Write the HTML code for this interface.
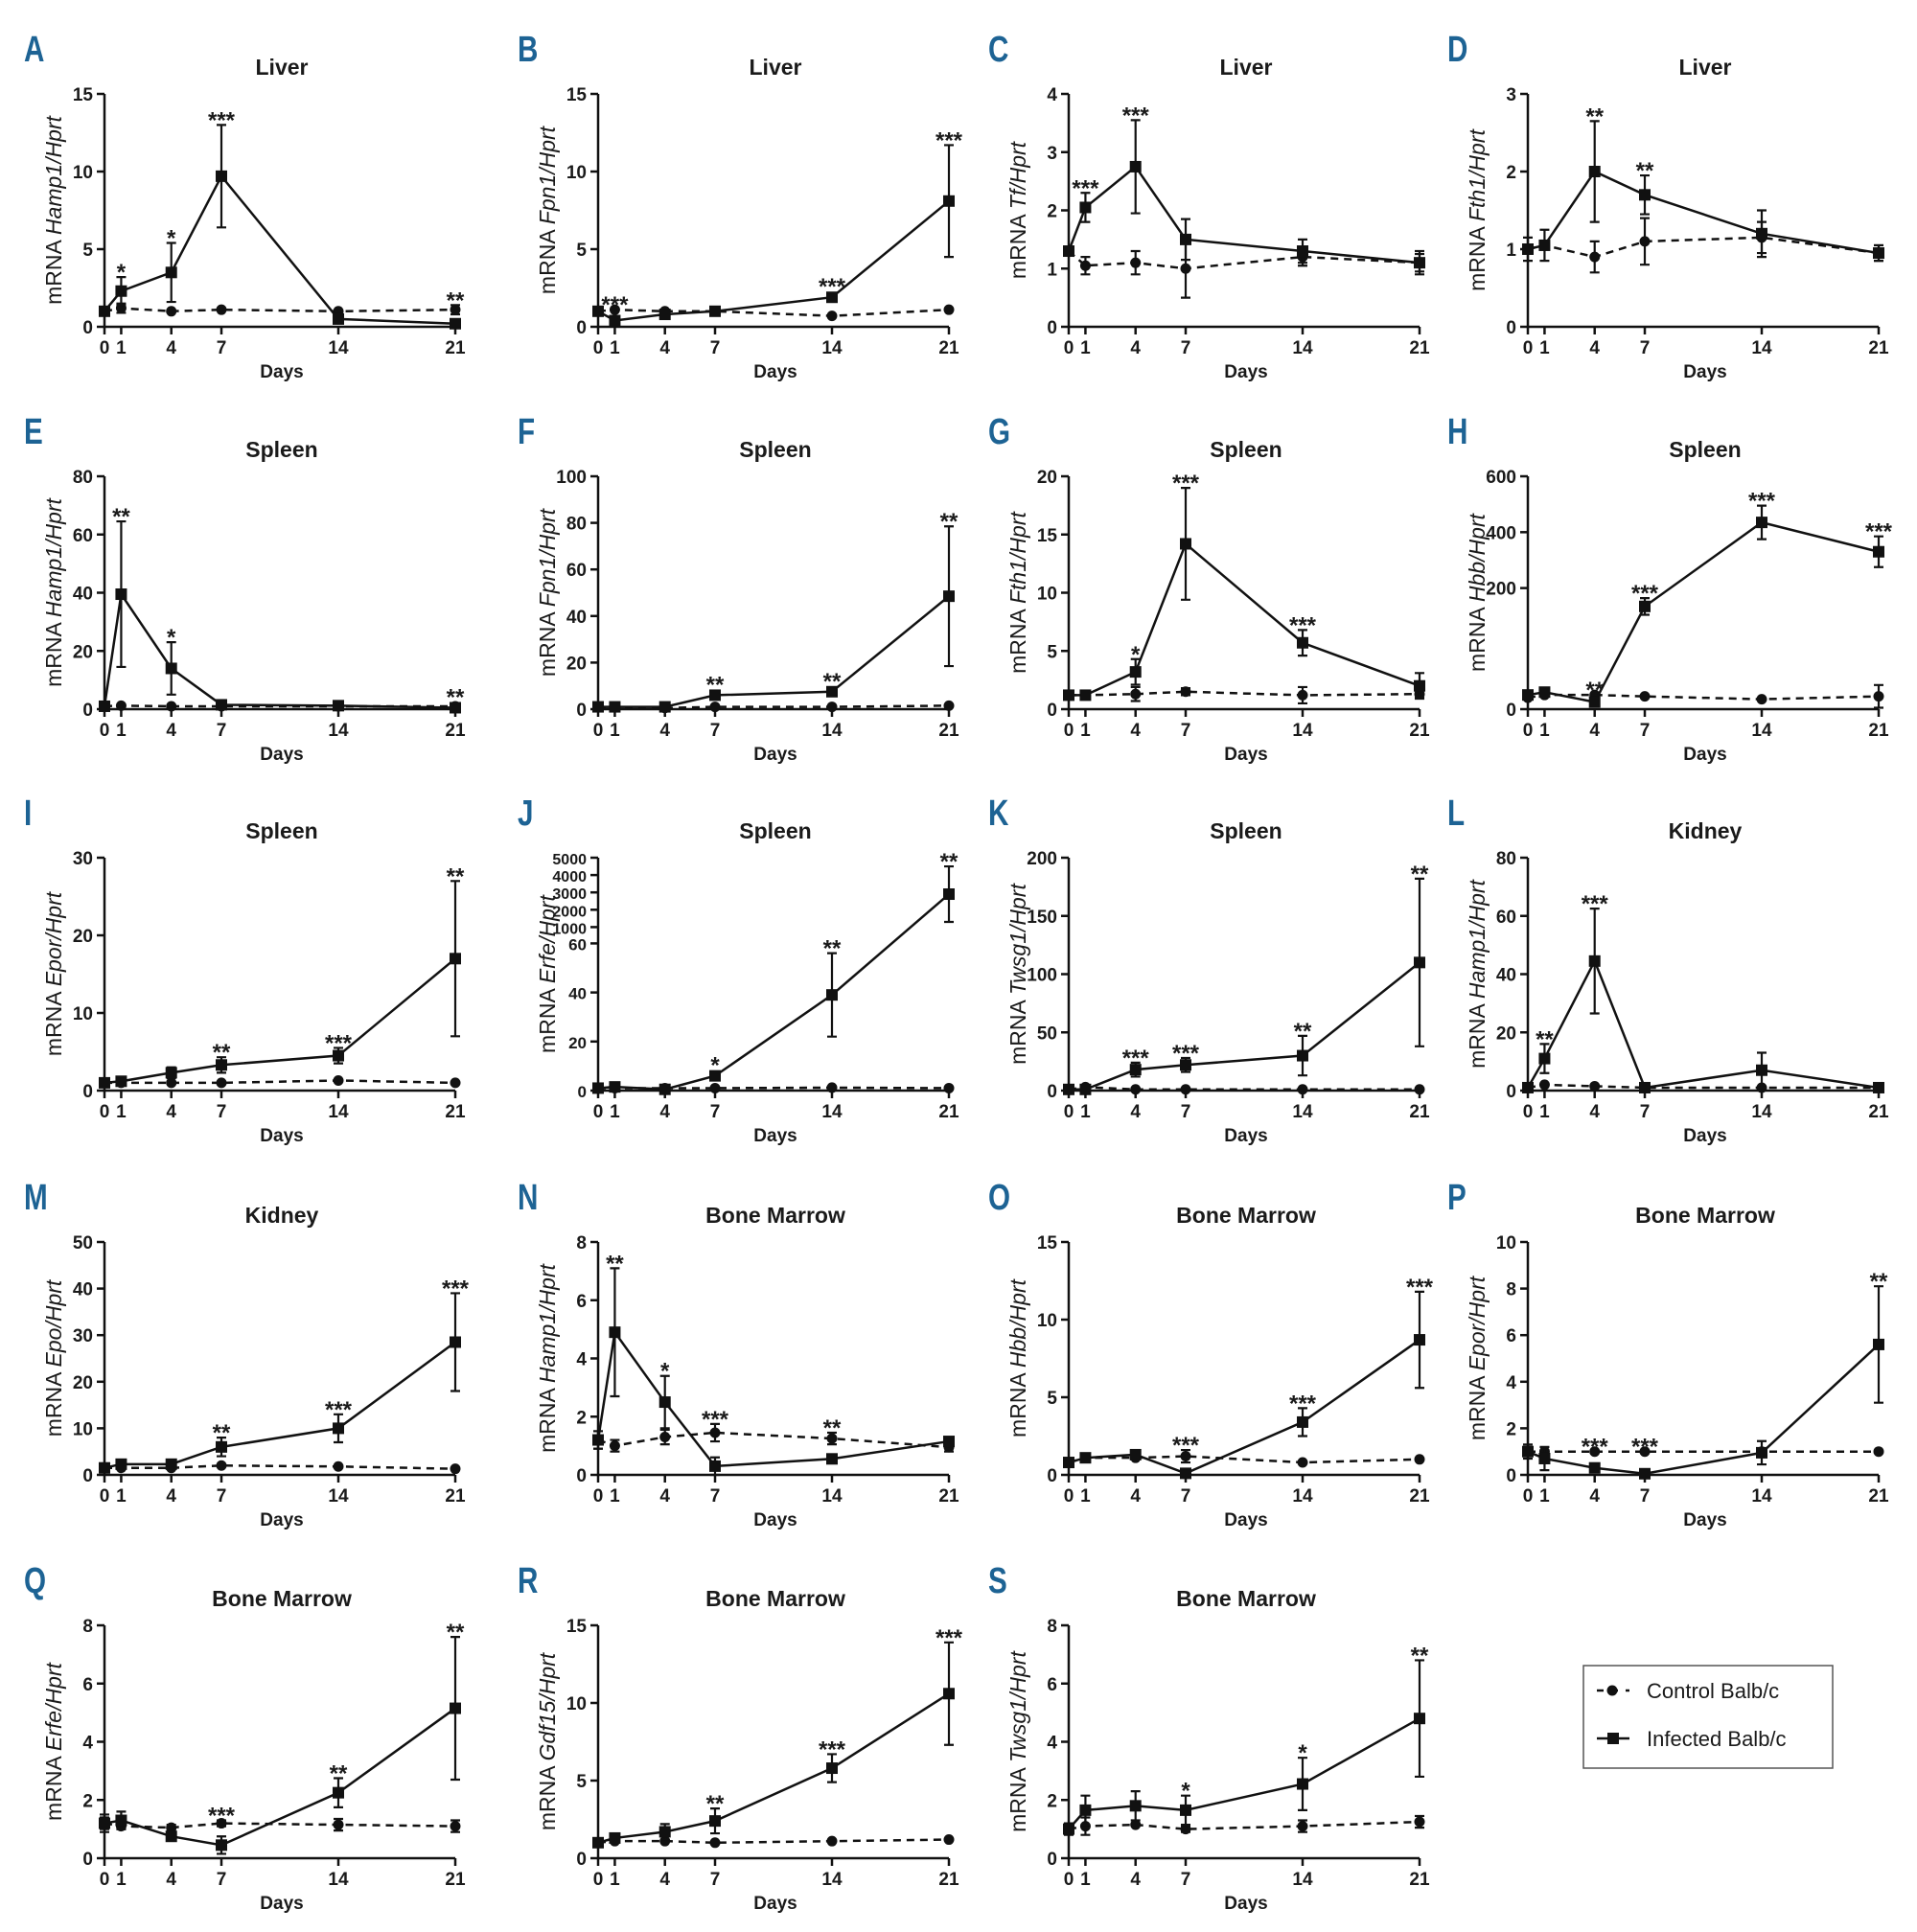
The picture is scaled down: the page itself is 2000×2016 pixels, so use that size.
<!DOCTYPE html>
<html><head><meta charset="utf-8"><style>
body{margin:0;background:#fff}
svg{display:block}
text{font-family:"Liberation Sans",Arial,sans-serif;fill:#1a1a1a}
</style></head><body>
<svg id="fig" width="2000" height="2016" viewBox="0 0 2000 2016" xmlns="http://www.w3.org/2000/svg"></svg>
<script>
const days=[0,1,4,7,14,21];
const dayLabels=["0","1","4","7","14","21"];
const panelLetters=["A","B","C","D","E","F","G","H","I","J","K","L","M","N","O","P","Q","R","S"];
const panelTitles=["Liver","Liver","Liver","Liver","Spleen","Spleen","Spleen","Spleen","Spleen","Spleen","Spleen","Kidney","Kidney","Bone Marrow","Bone Marrow","Bone Marrow","Bone Marrow","Bone Marrow","Bone Marrow"];
const panelGenes=["Hamp1/Hprt","Fpn1/Hprt","Tf/Hprt","Fth1/Hprt","Hamp1/Hprt","Fpn1/Hprt","Fth1/Hprt","Hbb/Hprt","Epor/Hprt","Erfe/Hprt","Twsg1/Hprt","Hamp1/Hprt","Epo/Hprt","Hamp1/Hprt","Hbb/Hprt","Epor/Hprt","Erfe/Hprt","Gdf15/Hprt","Twsg1/Hprt"];
const yTicks=[[0,5,10,15],[0,5,10,15],[0,1,2,3,4],[0,1,2,3],[0,20,40,60,80],[0,20,40,60,80,100],[0,5,10,15,20],[0,200,400,600],[0,10,20,30],[0,20,40,60,1000,2000,3000,4000,5000],[0,50,100,150,200],[0,20,40,60,80],[0,10,20,30,40,50],[0,2,4,6,8],[0,5,10,15],[0,2,4,6,8,10],[0,2,4,6,8],[0,5,10,15],[0,2,4,6,8]];
const yBreaks=[null,null,null,null,null,null,null,[[0,0],[50,0.305],[200,0.52],[600,1]],null,[[0,0],[60,0.632],[5000,1]],null,null,null,null,null,null,null,null,null];
const infectedValues=[
[1,2.3,3.5,9.7,0.5,0.2],[1,0.4,0.8,1.0,1.9,8.1],[1.3,2.05,2.75,1.5,1.3,1.1],[1.0,1.05,2.0,1.7,1.2,0.95],
[1,39.5,14,1.5,1.2,0.5],[1,1,1,6,7.5,48.5],[1.2,1.2,3.2,14.2,5.7,2.0],[10,12,5,145,435,330],
[1,1.2,2.3,3.3,4.5,17],[1,1.5,0.5,6,39,2900],[1,1,18,22,30,110],[1,11,44.5,1,7,1],
[1.5,2.3,2.3,6,10,28.5],[1.2,4.9,2.5,0.3,0.55,1.15],[0.8,1.1,1.3,0.1,3.4,8.7],[1.0,0.7,0.3,0.05,0.95,5.6],
[1.2,1.3,0.75,0.45,2.25,5.15],[1,1.3,1.7,2.4,5.8,10.6],[1.0,1.65,1.8,1.65,2.55,4.8]];
const infectedErrors=[
[0,0.9,1.9,3.3,0,0],[0,0,0,0,0,3.6],[0,0.25,0.8,0.35,0.2,0.2],[0.15,0.2,0.65,0.25,0.3,0.1],
[0,25,9,0,0,0],[0,0,0,0,0,30],[0,0,1.1,4.8,1.1,1.1],[0,0,0,25,60,55],
[0,0.3,0.7,1,1,10],[0,0,0,0,17,1600],[0,0,6,6,17,72],[0,5,18,0,6,0],
[0,0.5,0.5,2,3,10.5],[0.3,2.2,0.9,0.3,0,0],[0.1,0.1,0.2,0,0.9,3.1],[0.3,0.5,0,0,0.5,2.5],
[0.3,0.3,0,0.3,0.5,2.45],[0,0,0.5,0.8,0.9,3.3],[0.2,0.5,0.5,0.5,0.9,2]];
const controlValues=[
[1,1.2,1.0,1.1,1.0,1.1],[1,1.1,1.0,1.0,0.7,1.1],[1.3,1.05,1.1,1.0,1.2,1.1],[1.0,1.05,0.9,1.1,1.15,0.95],
[1,1.2,1,1,1,1],[1,0.8,0.5,1,1,1.5],[1.2,1.2,1.3,1.5,1.2,1.3],[8,10,10,9,7,9],
[1,1,1,1,1.3,1],[1,1,1,1,1.2,1],[1,3,1,1,1,1],[1,2,1.5,1,1,1],
[1.5,1.5,1.5,2,1.8,1.3],[1.2,1.0,1.3,1.45,1.25,0.95],[0.8,1.1,1.1,1.2,0.8,1.0],[1,1,1,1,1,1],
[1.2,1.1,1.05,1.2,1.15,1.1],[1,1.1,1.1,1,1.1,1.2],[1,1.1,1.15,1.0,1.1,1.25]];
const controlErrors=[
[0,0.3,0,0,0,0.3],[0,0,0,0,0,0],[0,0.15,0.2,0.5,0.15,0.15],[0,0,0.2,0.3,0.2,0.1],
[0,0,0,0,0,0],[0,0,0,0,0,0],[0,0,0.6,0.3,0.7,0.3],[0,0,0,0,0,8],
[0,0,0,0,0,0],[0,0,0,0,0,0],[0,0,0,0,0,0],[0,0,0,0,0,0],
[0,0,0,0,0,0],[0.3,0.2,0.25,0.3,0.2,0.15],[0,0,0,0.4,0,0],[0,0,0,0,0,0],
[0.2,0.1,0.1,0.1,0.2,0.2],[0,0,0,0,0,0],[0,0.3,0,0.1,0.2,0.2]];
const starLabels=[
["","*","*","***","","**"],["","***","","","***","***"],["","***","***","","",""],["","","**","**","",""],
["","**","*","","","**"],["","","","**","**","**"],["","","*","***","***",""],["","","**","***","***","***"],
["","","","**","***","**"],["","","","*","**","**"],["","","***","***","**","**"],["","**","***","","",""],
["","","","**","***","***"],["","**","*","***","**",""],["","","","***","***","***"],["","","***","***","","**"],
["","","","***","**","**"],["","","","**","***","***"],["","","","*","*","**"]];

const NS="http://www.w3.org/2000/svg";
const svg=document.getElementById("fig");
const colX=[109,624,1115,1594], plotW=366, rowTop=[98,497,895,1296,1696], plotH=243;
function mk(tag,attrs,parent){const e=document.createElementNS(NS,tag);for(const k in attrs)e.setAttribute(k,attrs[k]);(parent||svg).appendChild(e);return e;}

panelLetters.forEach((L,i)=>{
  const col=i%4,row=Math.floor(i/4);
  const x0=colX[col],y0=rowTop[row]+plotH,yTop=rowTop[row];
  const ticks=yTicks[i],ymax=ticks[ticks.length-1],br=yBreaks[i];
  const xs=d=>x0+d/21*plotW;
  const yf=v=>{ if(!br) return v/ymax;
    for(let k=1;k<br.length;k++){ if(v<=br[k][0]||k==br.length-1){const a=br[k-1],b=br[k];return a[1]+(v-a[0])/(b[0]-a[0])*(b[1]-a[1]);}} };
  const ys=v=>y0-Math.max(0,yf(v))*plotH;
  const g=mk("g",{});
  
  
  const lx=x0-84, ly=yTop-34;
  const lt=mk("text",{x:0,y:0,"font-size":38,"font-weight":"bold",transform:`translate(${lx} ${ly}) scale(0.78 1)`,style:"fill:#1d6394"},g);
  lt.textContent=L;
  
  
  const tt=mk("text",{x:x0+plotW/2+2,y:yTop-20,"font-size":23,"font-weight":"bold","text-anchor":"middle"},g);
  tt.textContent=panelTitles[i];
  
  
  const ax=mk("path",{d:`M${x0},${yTop} V${y0} H${x0+plotW}`,stroke:"#111","stroke-width":2.5,fill:"none"},g);
  
  
  const fs = br && ymax>1000 ? 17 : 19;
  ticks.forEach(t=>{const y=ys(t);
    mk("line",{x1:x0-8,x2:x0,y1:y,y2:y,stroke:"#111","stroke-width":2.5},g);
    const tl=mk("text",{x:x0-12,y:y+7,"font-size":(t>=1000?16:fs),"font-weight":"bold","text-anchor":"end"},g);tl.textContent=t;
    
    });
  days.forEach((d,k)=>{const x=xs(d);
    mk("line",{x1:x,x2:x,y1:y0,y2:y0+8,stroke:"#111","stroke-width":2.5},g);
    const tl=mk("text",{x:x,y:y0+28,"font-size":19,"font-weight":"bold","text-anchor":"middle"},g);tl.textContent=dayLabels[k];
    
    });
  const xt=mk("text",{x:x0+plotW/2+2,y:y0+53,"font-size":19,"font-weight":"bold","text-anchor":"middle"},g);xt.textContent="Days";
  
  
  const cy=yTop+plotH/2, yx=x0-45;
  const yl=mk("text",{x:yx,y:cy,"font-size":23,"text-anchor":"middle",transform:`rotate(-90 ${yx} ${cy})`},g);
  yl.innerHTML='mRNA <tspan font-style="italic">'+panelGenes[i]+'</tspan>';
  
  
  const cv=controlValues[i],ce=controlErrors[i];
  const cl=mk("polyline",{points:days.map((d,k)=>xs(d)+","+ys(cv[k])).join(" "),fill:"none",stroke:"#111","stroke-width":2.5,"stroke-dasharray":"8 6"},g);
  
  
  days.forEach((d,k)=>{const x=xs(d);
    if(ce[k]>0){mk("path",{d:`M${x},${ys(cv[k]+ce[k])}V${ys(cv[k]-ce[k])}M${x-5},${ys(cv[k]+ce[k])}h10M${x-5},${ys(cv[k]-ce[k])}h10`,stroke:"#111","stroke-width":2.2,fill:"none"},g);}
    const c=mk("circle",{cx:x,cy:ys(cv[k]),r:5.5,fill:"#111"},g);
    
    });
  const iv=infectedValues[i],ie=infectedErrors[i];
  const il=mk("polyline",{points:days.map((d,k)=>xs(d)+","+ys(iv[k])).join(" "),fill:"none",stroke:"#111","stroke-width":2.5},g);
  
  
  days.forEach((d,k)=>{const x=xs(d),y=ys(iv[k]);
    if(ie[k]>0){mk("path",{d:`M${x},${ys(iv[k]+ie[k])}V${ys(iv[k]-ie[k])}M${x-5},${ys(iv[k]+ie[k])}h10M${x-5},${ys(iv[k]-ie[k])}h10`,stroke:"#111","stroke-width":2.2,fill:"none"},g);}
    const s=mk("rect",{x:x-6,y:y-6,width:12,height:12,fill:"#111"},g);
    
    
    if(starLabels[i][k]){const top=Math.min(ys(iv[k]+ie[k]),ys(cv[k]+ce[k]),y-6);
      const st=mk("text",{x:x,y:top+3,"font-size":24,"font-weight":"bold","text-anchor":"middle"},g);st.textContent=starLabels[i][k];
      
      }
  });
});
const lg=mk("g",{});


mk("rect",{x:1652,y:1738,width:260,height:107,fill:"#fff",stroke:"#555","stroke-width":1.5},lg);
mk("line",{x1:1666,x2:1700,y1:1764,y2:1764,stroke:"#111","stroke-width":2.5,"stroke-dasharray":"7 8"},lg);
mk("circle",{cx:1682,cy:1764,r:5.5,fill:"#111"},lg);
const l1=mk("text",{x:1718,y:1772,"font-size":22},lg);l1.textContent="Control Balb/c";


mk("line",{x1:1666,x2:1700,y1:1814,y2:1814,stroke:"#111","stroke-width":2.5},lg);
mk("rect",{x:1677,y:1808,width:12,height:12,fill:"#111"},lg);
const l2=mk("text",{x:1718,y:1822,"font-size":22},lg);l2.textContent="Infected Balb/c";


</script>
</body></html>
